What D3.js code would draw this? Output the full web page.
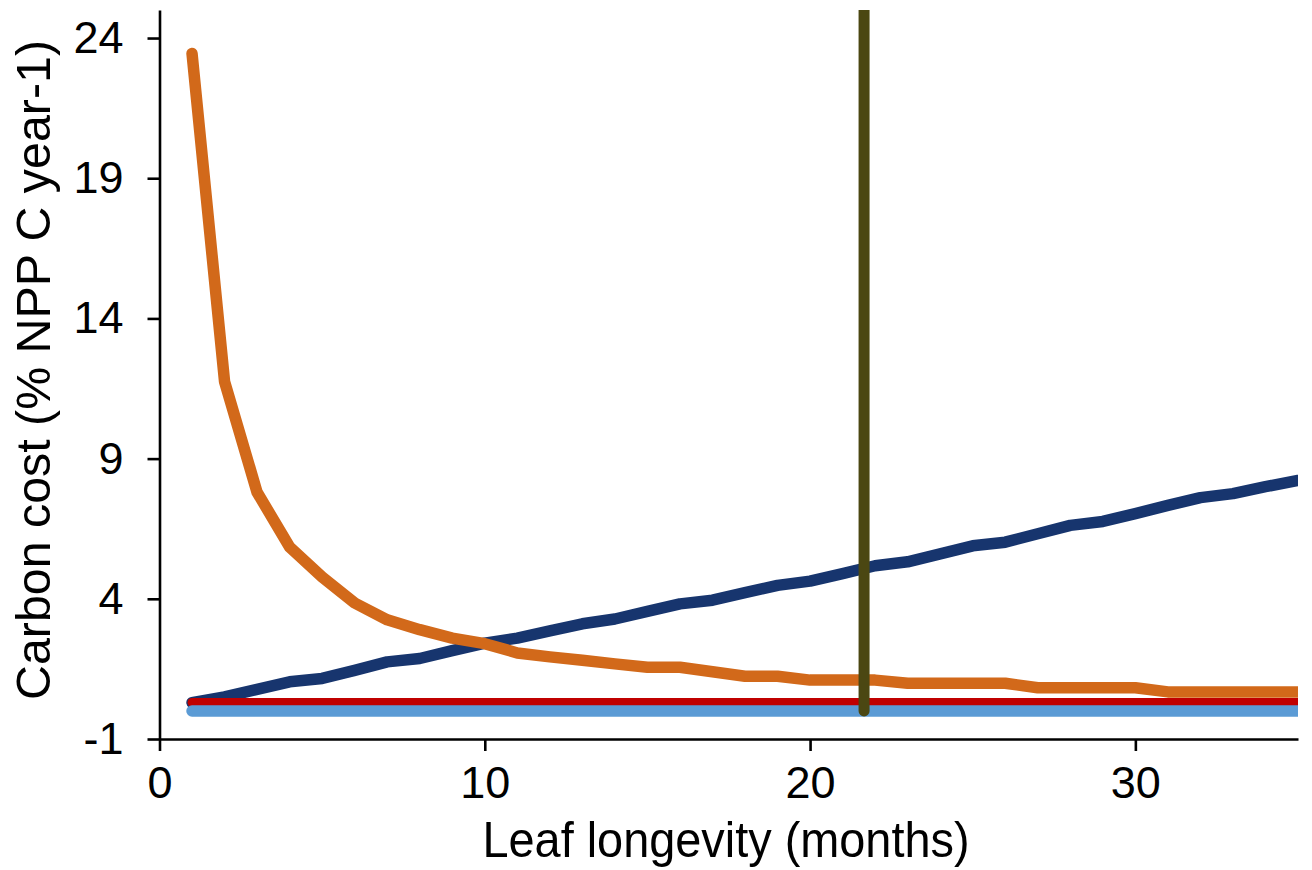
<!DOCTYPE html>
<html>
<head>
<meta charset="utf-8">
<script src="https://cdn.jsdelivr.net/npm/d3@7"></script>
<style>
  body { margin: 0; background: #fff; }
  svg { display: block; }
  .axis path, .axis line { stroke: #000; stroke-width: 2.6; }
  .axis text { font-family: "Liberation Sans", Arial, sans-serif; font-size: 45px; fill: #000; }
  .label { font-family: "Liberation Sans", Arial, sans-serif; fill: #000; }
</style>
</head>
<body>
<div id="chart"></div>
<script>
// months on the x axis
var months = [1, 2, 3, 4, 5, 6, 7, 8, 9, 10, 11, 12, 13, 14, 15, 16, 17, 18,
              19, 20, 21, 22, 23, 24, 25, 26, 27, 28, 29, 30, 31, 32, 33, 34, 35];

// carbon cost series (% NPP C year-1)
var orangeCost = [23.45, 11.75, 7.8, 5.85, 4.78, 3.85, 3.25, 2.9, 2.6, 2.4, 2.07, 1.93,
                  1.81, 1.68, 1.56, 1.56, 1.4, 1.24, 1.24, 1.1, 1.1, 1.1, 0.99, 0.99,
                  0.99, 0.99, 0.83, 0.83, 0.83, 0.83, 0.68, 0.68, 0.68, 0.68, 0.68];
var navyCost = [0.3, 0.5, 0.77, 1.04, 1.16, 1.45, 1.75, 1.87, 2.15, 2.42, 2.6, 2.86,
                3.11, 3.28, 3.55, 3.82, 3.95, 4.22, 4.48, 4.63, 4.9, 5.18, 5.32, 5.6,
                5.89, 6.02, 6.32, 6.62, 6.76, 7.04, 7.33, 7.61, 7.75, 8.0, 8.22];
var redCost = [0.3, 0.3, 0.3, 0.3, 0.3, 0.3, 0.3, 0.3, 0.3, 0.3, 0.3, 0.3, 0.3, 0.3,
               0.3, 0.3, 0.3, 0.3, 0.3, 0.3, 0.3, 0.3, 0.3, 0.3, 0.3, 0.3, 0.3, 0.3,
               0.3, 0.3, 0.3, 0.3, 0.3, 0.3, 0.3];
var blueCost = [0, 0, 0, 0, 0, 0, 0, 0, 0, 0, 0, 0, 0, 0, 0, 0, 0, 0, 0, 0, 0, 0, 0,
                0, 0, 0, 0, 0, 0, 0, 0, 0, 0, 0, 0];

// optimum leaf longevity marker
var markerMonth = [21.66];

var xTicks = [0, 10, 20, 30],
    yTicks = [-1, 4, 9, 14, 19, 24];

// dimensions
var W = 1312, H = 870,
    margin = {top: 10, right: 14, bottom: 131, left: 159.5};

var svg = d3.select("#chart")
  .append("svg")
  .attr("width", W)
  .attr("height", H);

var x = d3.scaleLinear()
  .domain([0, 35])
  .range([margin.left, W - margin.right]);

var y = d3.scaleLinear()
  .domain([-1, 25])
  .range([H - margin.bottom, margin.top]);

// clip so the lines are cut at the top and right edges
svg.append("clipPath")
  .attr("id", "plotclip")
  .append("rect")
    .attr("x", 0)
    .attr("y", margin.top)
    .attr("width", W - margin.right)
    .attr("height", H);

// axes
svg.append("g")
  .attr("class", "axis")
  .attr("transform", "translate(0," + y(-1) + ")")
  .call(d3.axisBottom(x).tickValues(xTicks).tickFormat(d => String(d))
          .tickSize(12).tickSizeOuter(0).tickPadding(15))
  .call(g => g.selectAll("text").attr("dy", "0.71em"));

svg.append("g")
  .attr("class", "axis")
  .attr("transform", "translate(" + x(0) + ",0)")
  .call(d3.axisLeft(y).tickValues(yTicks).tickFormat(d => String(d))
          .tickSize(12).tickSizeOuter(0).tickPadding(24));

var plot = svg.append("g").attr("clip-path", "url(#plotclip)");

var line = d3.line()
  .x((d, i) => x(months[i]))
  .y(d => y(d));

function drawSeries(values, colour, width){
  plot.append("path")
    .datum(values)
    .attr("fill", "none")
    .attr("stroke", colour)
    .attr("stroke-width", width)
    .attr("stroke-linecap", "round")
    .attr("stroke-linejoin", "round")
    .attr("d", line);
}

drawSeries(navyCost, "#17356e", 11.5);
drawSeries(redCost, "#c00000", 9);
drawSeries(blueCost, "#5b9bd5", 11.5);
drawSeries(orangeCost, "#d2691a", 11.5);

// vertical marker
plot.selectAll(".marker")
  .data(markerMonth)
  .enter().append("line")
    .attr("class", "marker")
    .attr("x1", d => x(d))
    .attr("x2", d => x(d))
    .attr("y1", y(0))
    .attr("y2", y(27))
    .attr("stroke", "#4b4712")
    .attr("stroke-width", 11)
    .attr("stroke-linecap", "round");

// axis titles
svg.append("text")
  .attr("class", "label")
  .attr("x", 726)
  .attr("y", 857)
  .attr("text-anchor", "middle")
  .attr("font-size", 50)
  .attr("textLength", 487)
  .attr("lengthAdjust", "spacingAndGlyphs")
  .text("Leaf longevity (months)");

svg.append("text")
  .attr("class", "label")
  .attr("transform", "translate(50," + 370 + ") rotate(-90)")
  .attr("text-anchor", "middle")
  .attr("font-size", 49)
  .attr("textLength", 660)
  .attr("lengthAdjust", "spacingAndGlyphs")
  .text("Carbon cost (% NPP C year-1)");
</script>
</body>
</html>
